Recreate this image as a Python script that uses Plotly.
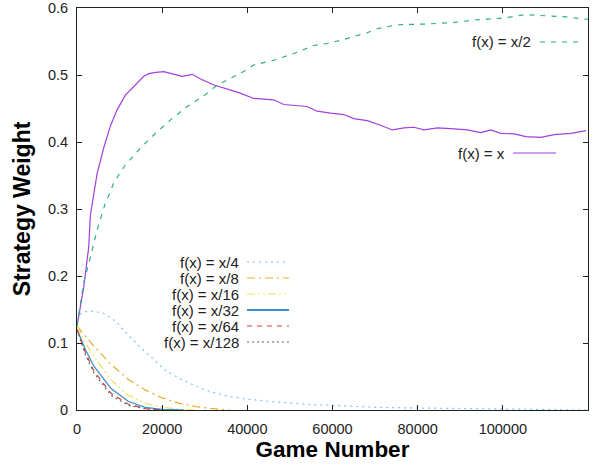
import plotly.graph_objects as go

# ---- data ----
x_f1 = [0, 390, 1570, 2750, 3130, 4700, 6270, 7840, 9410, 11370, 13730, 15680, 16860,
        18500, 20390, 22740, 24700, 27060, 29020, 32160, 34510, 36860, 38350, 40000,
        41490, 46200, 48550, 54040, 56390, 59530, 62660, 65010, 68150, 71290, 74040,
        76780, 79130, 81490, 84620, 87760, 91680, 94820, 97180, 99530, 102670, 105410,
        108940, 112080, 116000, 119530]
y_f1 = [0.125, 0.139, 0.183, 0.243, 0.290, 0.352, 0.391, 0.424, 0.448, 0.470, 0.485, 0.498, 0.502,
        0.504, 0.505, 0.501, 0.498, 0.501, 0.494, 0.485, 0.481, 0.476, 0.473, 0.469,
        0.465, 0.463, 0.456, 0.453, 0.446, 0.443, 0.441, 0.435, 0.432, 0.425, 0.418,
        0.421, 0.422, 0.418, 0.421, 0.420, 0.418, 0.414, 0.418, 0.413, 0.412, 0.408,
        0.407, 0.411, 0.413, 0.417]

x_f2 = [0, 790, 1570, 3140, 4700, 6470, 8630, 11370, 14900, 18430, 21960, 25880, 29800,
        32940, 34430, 36860, 39400, 41490, 46200, 50900, 55610, 58750, 62660, 65800,
        68150, 70500, 75200, 81490, 87760, 93250, 97180, 100310, 105020, 109720,
        114430, 119940]
y_f2 = [0.125, 0.158, 0.190, 0.228, 0.268, 0.305, 0.339, 0.366, 0.391, 0.413, 0.433, 0.453, 0.469,
        0.485, 0.490, 0.498, 0.506, 0.515, 0.522, 0.532, 0.544, 0.547, 0.553, 0.559,
        0.563, 0.569, 0.575, 0.576, 0.578, 0.582, 0.584, 0.585, 0.590, 0.589,
        0.587, 0.583]

x_f4 = [0, 1000, 3000, 6000, 9000, 12000, 15000, 18000, 21000, 25000, 30000, 35000, 40000,
        45000, 50000, 55000, 60000, 70000, 80000, 90000, 100000, 110000, 120000]
y_f4 = [0.135, 0.145, 0.148, 0.145, 0.133, 0.112, 0.093, 0.075, 0.058, 0.044, 0.030, 0.021, 0.016,
        0.013, 0.010, 0.008, 0.007, 0.004, 0.003, 0.002, 0.001, 0.0005, 0.0]

x_f8 = [0, 4000, 8000, 12000, 16000, 20000, 24000, 28000, 32000, 36000]
y_f8 = [0.125, 0.095, 0.068, 0.046, 0.030, 0.018, 0.010, 0.005, 0.002, 0.0]

x_f16 = [0, 2000, 4000, 8000, 12000, 16000, 20000, 24000, 28000]
y_f16 = [0.125, 0.100, 0.080, 0.045, 0.022, 0.010, 0.004, 0.001, 0.0]

x_f32 = [0, 2000, 4000, 8000, 12000, 16000, 20000, 25000]
y_f32 = [0.120, 0.090, 0.065, 0.032, 0.013, 0.004, 0.001, 0.0]

x_f64 = [0, 2000, 4000, 8000, 12000, 16000, 20000]
y_f64 = [0.120, 0.085, 0.058, 0.025, 0.009, 0.002, 0.0]

x_f128 = [0, 2000, 4000, 8000, 12000, 16000, 20000]
y_f128 = [0.120, 0.082, 0.055, 0.022, 0.007, 0.002, 0.0]

x_ticks = [0, 20000, 40000, 60000, 80000, 100000]
y_ticks = [0, 0.1, 0.2, 0.3, 0.4, 0.5, 0.6]
y_tick_labels = ["0", "0.1", "0.2", "0.3", "0.4", "0.5", "0.6"]

names = ["f(x) = x", "f(x) = x/2", "f(x) = x/4", "f(x) = x/8", "f(x) = x/16",
         "f(x) = x/32", "f(x) = x/64", "f(x) = x/128"]

# ---- styles ----
series = [
    (x_f1, y_f1, "#a13fe0", "solid", 1.2),
    (x_f2, y_f2, "#2fae88", "5px,6px", 1.2),
    (x_f4, y_f4, "#7cc4ee", "2px,4px", 1.2),
    (x_f8, y_f8, "#e8a92a", "8px,4px,2px,4px", 1.2),
    (x_f16, y_f16, "#f0e05a", "8px,3px,2px,3px,2px,3px", 1.2),
    (x_f32, y_f32, "#3a8fcc", "solid", 1.3),
    (x_f64, y_f64, "#e5392d", "5px,5px", 1.2),
    (x_f128, y_f128, "#666666", "2px,3px", 1.2),
]

FONT = "Liberation Sans, Arial, Helvetica, sans-serif"

fig = go.Figure()
for (xs, ys, col, dash, w), nm in zip(series, names):
    fig.add_trace(go.Scatter(x=xs, y=ys, mode="lines", name=nm,
                             line=dict(color=col, dash=dash, width=w),
                             showlegend=False))

# gnuplot-style keys: text on the left, line sample on the right (paper coords)
PX0, PX1, PY0, PY1 = 77, 588, 8, 410
def px(xp):
    return (xp - PX0) / (PX1 - PX0)
def py(yp):
    return (PY1 - yp) / (PY1 - PY0)

key_items = [
    # (series index, text right px, y px, line start px, line end px)
    (1, 531, 42, 540, 580),
    (0, 505, 153, 513, 556),
    (2, 239, 262, 247, 289),
    (3, 239, 278, 247, 289),
    (4, 239, 294, 247, 289),
    (5, 239, 310, 247, 289),
    (6, 239, 326, 247, 289),
    (7, 239, 342, 247, 289),
]
for idx, tx, ty, l0, l1 in key_items:
    _, _, col, dash, w = series[idx]
    fig.add_annotation(x=px(tx), y=py(ty), xref="paper", yref="paper",
                       text=names[idx], showarrow=False, xanchor="right",
                       yanchor="middle", xshift=2,
                       font=dict(family=FONT, size=15, color="#222"))
    fig.add_shape(type="line", xref="paper", yref="paper",
                  x0=px(l0), x1=px(l1), y0=py(ty), y1=py(ty),
                  line=dict(color=col, dash=dash, width=w + (0.8 if idx == 5 else 0)))

axis_common = dict(showline=True, linecolor="#222", linewidth=1, mirror="ticks",
                   ticks="inside", ticklen=5, tickcolor="#222", showgrid=False,
                   zeroline=False, automargin=False, ticklabeloverflow="allow",
                   tickfont=dict(family=FONT, size=14.5, color="#222"))

fig.update_xaxes(range=[0, 120000], tickvals=x_ticks,
                 ticktext=[str(v) for v in x_ticks], ticklabelstandoff=6,
                 title=dict(text="<b>Game Number</b>", font=dict(family=FONT, size=22.5, color="black"),
                            standoff=2),
                 **axis_common)
fig.update_yaxes(range=[0, 0.6], tickvals=y_ticks, ticktext=y_tick_labels,
                 ticklabelstandoff=5,
                 title=dict(text="<b>Strategy Weight</b>", font=dict(family=FONT, size=23, color="black"),
                            standoff=10),
                 **axis_common)

fig.update_layout(width=594, height=468, margin=dict(l=77, r=6, t=8, b=58, autoexpand=False),
                  plot_bgcolor="white", paper_bgcolor="white", showlegend=False)

fig.write_html("out.html", config={"displayModeBar": False},
               post_script="document.body.style.margin='0';")
